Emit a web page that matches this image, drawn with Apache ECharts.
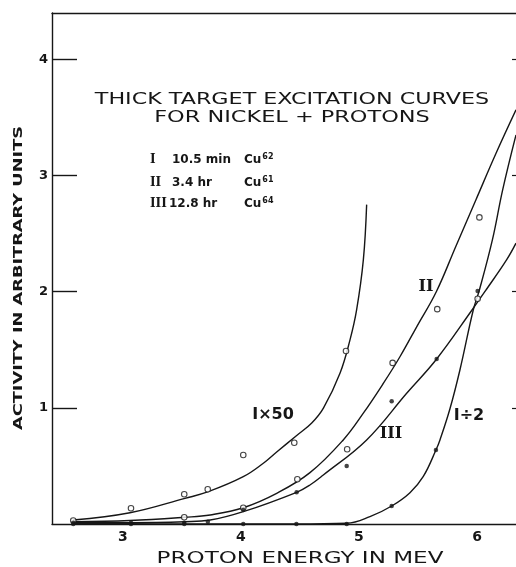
<!DOCTYPE html>
<html><head><meta charset="utf-8">
<script src="https://cdn.jsdelivr.net/npm/echarts@6/dist/echarts.min.js"></script>
<style>html,body{margin:0;padding:0;background:#fff}#c{width:516px;height:567px}</style>
</head><body><div id="c"></div>
<script>
// ---- data ----
const xTickValues = [3, 4, 5, 6];
const yTickValues = [1, 2, 3, 4];

// fitted curves [energy MeV, activity]
const curveIx50 = [[2.58,0.034],[3.06,0.097],[3.526,0.221],[3.724,0.278],[4.02,0.407],[4.19,0.523],[4.303,0.62],[4.47,0.76],[4.60,0.87],[4.70,1.0],[4.84,1.30],[4.924,1.585],[4.98,1.843],[5.037,2.274],[5.065,2.75]];
const curveII = [[2.58,0.02],[3.06,0.03],[3.526,0.058],[3.74,0.078],[4.02,0.14],[4.303,0.264],[4.585,0.442],[4.867,0.724],[5.037,0.954],[5.206,1.21],[5.347,1.44],[5.49,1.70],[5.655,2.0],[5.82,2.39],[5.99,2.79],[6.16,3.19],[6.33,3.566]];
const curveIII = [[2.58,0.015],[3.06,0.012],[3.526,0.02],[3.74,0.034],[4.02,0.106],[4.472,0.273],[4.585,0.336],[4.698,0.422],[5.065,0.724],[5.404,1.126],[5.658,1.421],[5.968,1.858],[6.076,2.015],[6.25,2.274],[6.33,2.418]];
const curveIdiv2 = [[2.58,0.003],[3.06,0.002],[3.52,0.001],[4.02,0.0],[4.47,0.0],[4.896,0.006],[5.093,0.063],[5.277,0.155],[5.432,0.27],[5.545,0.41],[5.652,0.637],[5.686,0.724],[5.77,0.99],[5.855,1.326],[5.968,1.843],[6.02,2.015],[6.13,2.446],[6.217,2.877],[6.33,3.35]];

// measured points
const pointsIx50 = [[2.58,0.03],[3.069,0.135],[3.52,0.256],[3.719,0.299],[4.02,0.594],[4.452,0.70],[4.89,1.49]];
const pointsII = [[3.52,0.058],[4.02,0.14],[4.478,0.385],[4.90,0.643],[5.285,1.387],[5.663,1.85],[6.02,2.64],[6.005,1.94]];
const pointsIII = [[2.58,0.01],[3.069,0.01],[3.52,0.01],[3.72,0.02],[4.02,0.12],[4.472,0.273],[4.896,0.50],[5.277,1.057],[5.658,1.42]];
const pointsIdiv2 = [[2.58,0],[3.069,0],[3.52,0],[4.02,0],[4.47,0],[4.896,0],[5.277,0.155],[5.652,0.637],[6.005,2.007]];

const legendRows = [
  ['I', '10.5 min', '62'],
  ['II', '3.4 hr', '61'],
  ['III', '12.8 hr', '64']
];

// ---- chart ----
const INK = '#161616';
const chart = echarts.init(document.getElementById('c'));
const curveStyle = {color: INK, width: 1.4};
function curve(name, data) {
  return {name, type: 'line', data, smooth: 0.4, showSymbol: false,
          lineStyle: curveStyle, silent: true, z: 2};
}
function pts(name, data, open) {
  return {name, type: 'scatter', data, symbol: 'circle', symbolSize: open ? 5.5 : 4.5, z: 3,
          itemStyle: open ? {color: '#fff', borderColor: INK, borderWidth: 1.1} : {color: INK}};
}
const numeralFont = 'bold 16px "DejaVu Serif"';
const graphics = [
  {type:'text', x:292, y:100, scaleX:1.39, style:{text:'THICK TARGET EXCITATION CURVES', font:'16px "DejaVu Sans"', fill:INK, textAlign:'center', textVerticalAlign:'middle'}},
  {type:'text', x:292, y:118, scaleX:1.40, style:{text:'FOR NICKEL + PROTONS', font:'16px "DejaVu Sans"', fill:INK, textAlign:'center', textVerticalAlign:'middle'}},
  {type:'text', x:19, y:278, rotation:Math.PI/2, scaleX:1.42, style:{text:'ACTIVITY IN ARBITRARY UNITS', font:'bold 12.5px "DejaVu Sans"', fill:INK, textAlign:'center', textVerticalAlign:'middle'}},
  {type:'text', x:300, y:559, scaleX:1.44, style:{text:'PROTON ENERGY IN MEV', font:'16px "DejaVu Sans"', fill:INK, textAlign:'center', textVerticalAlign:'middle'}},
  {type:'text', x:426, y:287, style:{text:'II', font:numeralFont, fill:INK, textAlign:'center', textVerticalAlign:'middle'}},
  {type:'text', x:273, y:415, style:{text:'I×50', font:'bold 16px "DejaVu Sans"', fill:INK, textAlign:'center', textVerticalAlign:'middle'}},
  {type:'text', x:391, y:434, style:{text:'III', font:numeralFont, fill:INK, textAlign:'center', textVerticalAlign:'middle'}},
  {type:'text', x:469, y:416, style:{text:'I÷2', font:'bold 16px "DejaVu Sans"', fill:INK, textAlign:'center', textVerticalAlign:'middle'}}
];
const rowY = [160, 183, 204];
const descX = [172, 172, 169];
legendRows.forEach((r, i) => {
  graphics.push({type:'text', x:150, y:rowY[i], style:{text:r[0], font:'bold 12px "DejaVu Serif"', fill:INK, textAlign:'left', textVerticalAlign:'middle'}});
  graphics.push({type:'text', x:descX[i], y:rowY[i], style:{text:r[1], font:'bold 12px "DejaVu Sans"', fill:INK, textAlign:'left', textVerticalAlign:'middle'}});
  graphics.push({type:'text', x:244, y:rowY[i], style:{text:'{b|Cu}{s|' + r[2] + '}', fill:INK, textAlign:'left', textVerticalAlign:'middle',
     rich:{b:{font:'bold 12px "DejaVu Sans"', fill:INK}, s:{font:'bold 8px "DejaVu Sans"', fill:INK, verticalAlign:'top', padding:[0,0,6,1]}}}});
});

const xMin = 2.4, xMax = 6.33, yMax = 4.4;
chart.setOption({
  backgroundColor: '#ffffff',
  animation: false,
  grid: {left: 52, right: 0, top: 13, bottom: 43},
  xAxis: [
    {type:'value', min:xMin, max:xMax, position:'bottom',
     axisLine:{show:true, lineStyle:{color:INK, width:1.4}},
     axisTick:{show:false}, splitLine:{show:false},
     axisLabel:{customValues:xTickValues, color:INK, fontFamily:'DejaVu Sans', fontWeight:'bold', fontSize:14, margin:6}},
    {type:'value', min:xMin, max:xMax, position:'top',
     axisLine:{show:true, onZero:false, lineStyle:{color:INK, width:1.4}},
     axisTick:{show:false}, axisLabel:{show:false}, splitLine:{show:false}}
  ],
  yAxis: [
    {type:'value', min:0, max:yMax, position:'left',
     axisLine:{show:true, onZero:false, lineStyle:{color:INK, width:1.4}},
     axisTick:{show:true, inside:true, length:25, customValues:yTickValues, lineStyle:{color:INK, width:1.4}},
     splitLine:{show:false},
     axisLabel:{customValues:yTickValues, color:INK, fontFamily:'DejaVu Sans', fontWeight:'bold', fontSize:13, margin:4}},
    {type:'value', min:0, max:yMax, position:'right',
     axisLine:{show:false},
     axisTick:{show:true, inside:true, length:4, customValues:yTickValues, lineStyle:{color:INK, width:1.2}},
     splitLine:{show:false}, axisLabel:{show:false}}
  ],
  series: [
    curve('I×50', curveIx50), curve('II', curveII), curve('III', curveIII), curve('I÷2', curveIdiv2),
    pts('I×50 pts', pointsIx50, true), pts('II pts', pointsII, true),
    pts('III pts', pointsIII, false), pts('I÷2 pts', pointsIdiv2, false)
  ],
  graphic: graphics
});
</script></body></html>
